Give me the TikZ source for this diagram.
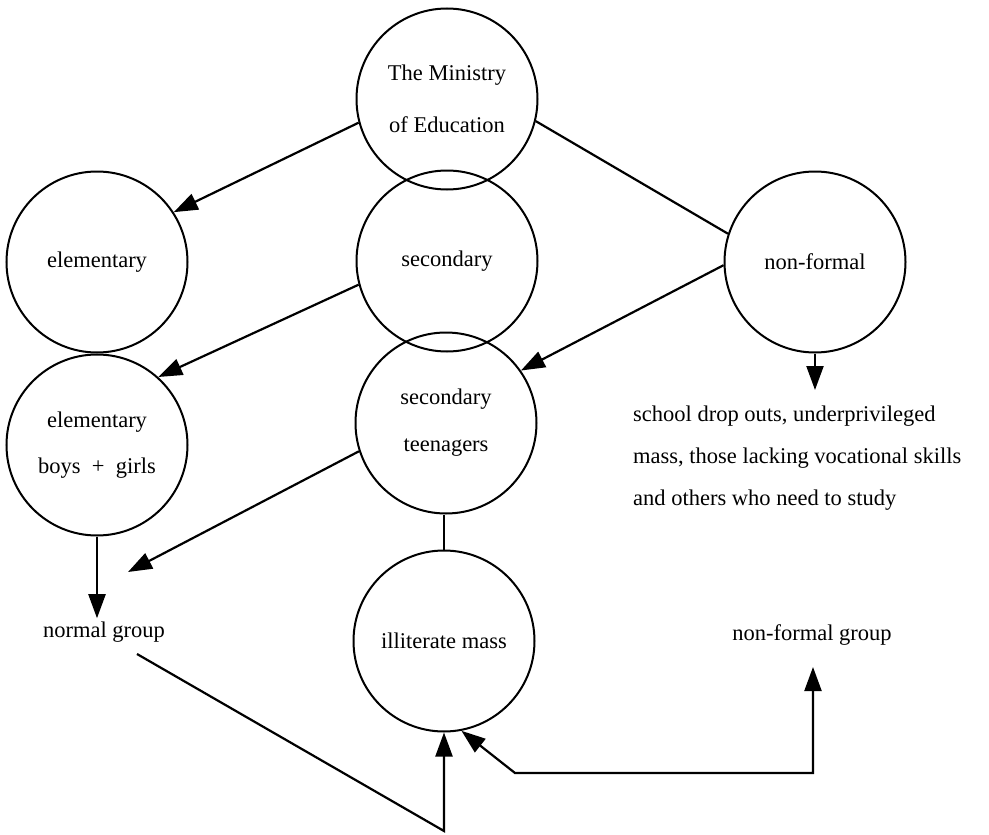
\documentclass[tikz,border=0pt]{standalone}
\usepackage{fontspec}
\setmainfont{Liberation Serif}
\usetikzlibrary{arrows.meta}
\begin{document}
\begin{tikzpicture}[x=1pt,y=-1pt,
  every node/.style={font=\fontsize{22.5}{27}\selectfont},
  bubble/.style={draw, circle, line width=2pt, minimum size=181pt, inner sep=0pt, align=center},
  link/.style={line width=2.2pt},
  head/.style={-{Triangle[length=24pt,width=17pt]}},
  twohead/.style={{Triangle[length=24pt,width=17pt]}-{Triangle[length=24pt,width=17pt]}}
]
\useasboundingbox (0,0) rectangle (989,835);

% circles
\node[bubble, font=\fontsize{22.5}{52}\selectfont] (ministry) at (447,99) {The Ministry\\of Education};
\node[bubble] (elementary) at (97,262) {elementary};
\node[bubble] (secondary) at (447,261) {secondary};
\node[bubble] (nonformal) at (815,262) {non-formal};
\node[bubble, font=\fontsize{22.5}{46}\selectfont] (boys) at (97,445) {elementary\\boys\ \ +\ \ girls};
\node[bubble, font=\fontsize{22.5}{47}\selectfont] (teen) at (446,423) {secondary\\teenagers};
\node[bubble] (illit) at (444,641) {illiterate mass};

% free labels
\node (normal) at (104,632) {normal group};
\node (nfgroup) at (812,635) {non-formal group};
\node[anchor=west, align=left, inner sep=0pt, font=\fontsize{22.5}{42}\selectfont] (drops) at (633,458)
  {school drop outs, underprivileged\\mass, those lacking vocational skills\\and others who need to study};

% free ends and bends of connectors
\coordinate (dropsTip) at (815,390);
\coordinate (normalIn) at (128,572);
\coordinate (normalOut) at (137,654);
\coordinate (lowBend) at (444,831);
\coordinate (nfgTip) at (813,667);
\coordinate (rightBend) at (813,773);
\coordinate (leftBend) at (515,773);

% connectors
\draw[link,head] (ministry.195) -- (elementary.33);
\draw[link] (ministry.346) -- (nonformal.162);
\draw[link,head] (secondary.195) -- (boys.48);
\draw[link,head] (nonformal.182) -- (teen.35);
\draw[link,head] (teen.198) -- (normalIn);
\draw[link,head] (boys.south) -- (boys.south |- normal.north);
\draw[link,head] (nonformal.south) -- (dropsTip);
\draw[link] (illit.north |- teen.south) -- (illit.north);
\draw[link,head] (normalOut) -- (lowBend) -- (illit.south);
\draw[link,twohead] (nfgTip) -- (rightBend) -- (leftBend) -- (illit.281);
\end{tikzpicture}
\end{document}
